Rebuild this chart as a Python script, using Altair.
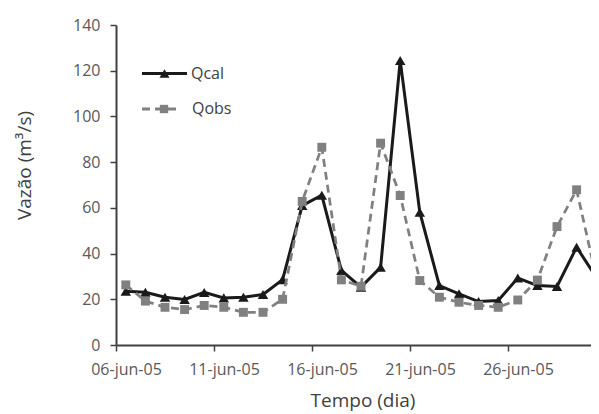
import altair as alt
import pandas as pd

# ---- data ----
datas = [
    "2005-06-06", "2005-06-07", "2005-06-08", "2005-06-09", "2005-06-10",
    "2005-06-11", "2005-06-12", "2005-06-13", "2005-06-14", "2005-06-15",
    "2005-06-16", "2005-06-17", "2005-06-18", "2005-06-19", "2005-06-20",
    "2005-06-21", "2005-06-22", "2005-06-23", "2005-06-24", "2005-06-25",
    "2005-06-26", "2005-06-27", "2005-06-28", "2005-06-29", "2005-06-30",
]
qcal = [23.5, 23.1, 20.9, 19.9, 23.0, 20.6, 20.9, 22.1, 28.6, 61.0,
        65.5, 32.6, 25.3, 34.0, 124.5, 58.1, 26.0, 22.4, 19.0, 19.5,
        29.3, 26.0, 25.6, 42.8, 29.7]
qobs = [26.3, 19.2, 16.5, 15.5, 17.3, 16.5, 14.3, 14.3, 20.0, 62.8,
        86.5, 28.5, 25.7, 88.3, 65.4, 28.2, 20.9, 18.7, 17.3, 16.5,
        19.7, 28.4, 51.8, 67.9, 29.7]
series = ["Qcal", "Qobs"]
tick_dates = ["2005-06-06", "2005-06-11", "2005-06-16", "2005-06-21", "2005-06-26"]
tick_labels = ["06-jun-05", "11-jun-05", "16-jun-05", "21-jun-05", "26-jun-05"]
y_ticks = [0, 20, 40, 60, 80, 100, 120, 140]

df = pd.DataFrame({
    "data": datas * 2,
    "serie": [series[0]] * len(datas) + [series[1]] * len(datas),
    "vazao": qcal + qobs,
})

def ms(s):
    return int(pd.Timestamp(s, tz="UTC").value // 10**6)

PLOT_W = 475
PX_PER_DAY = 19.6
t0 = ms(tick_dates[0])
day = 86400000
t_end = t0 + int(PLOT_W / PX_PER_DAY * day)
tick_ms = [ms(d) for d in tick_dates]
label_arr = "[" + ",".join("'%s'" % l for l in tick_labels) + "]"
label_expr = "%s[round((datum.value - %d) / %d)]" % (label_arr, t0, 5 * day)

FONT = "Open Sans"
AXIS_COLOR = "#404040"
TEXT_COLOR = "#595959"
BLACK = "#1a1a1a"
GRAY = "#808080"

x_enc = alt.X(
    "data:T",
    timeUnit="utcyearmonthdate",
    bandPosition=0.5,
    scale=alt.Scale(type="utc", domain=[t0, t_end], nice=False),
    axis=alt.Axis(
        values=tick_ms,
        labelExpr=label_expr,
        labelOffset=10,
        labelFlush=False,
        labelOverlap=False,
        title="Tempo (dia)",
        titleX=246.5,
        titleY=61,
        titleBaseline="alphabetic",
        titleAlign="center",
    ),
)
y_enc = alt.Y(
    "vazao:Q",
    scale=alt.Scale(domain=[0, 140], nice=False),
    axis=alt.Axis(
        values=y_ticks,
        title="Vazão (m³/s)",
        titleX=-92,
        titleY=140,
        titleAlign="center",
        titleBaseline="middle",
        titleAngle=270,
    ),
)

base = alt.Chart(df)

def line_layer(name, color, width, dash=None):
    kw = dict(color=color, strokeWidth=width, clip=True)
    if dash:
        kw["strokeDash"] = dash
    return base.transform_filter(alt.datum.serie == name).mark_line(**kw).encode(x=x_enc, y=y_enc)

def point_layer(name, shape, color, size):
    return base.transform_filter(alt.datum.serie == name).mark_point(
        shape=shape, filled=True, color=color, size=size, opacity=1
    ).encode(x=x_enc, y=y_enc)

# legend (manual, inside the plot at top-left)
def leg_df(name):
    return pd.DataFrame({"serie": [name]})

leg_cal_line = alt.Chart(leg_df("Qcal")).mark_rule(color=BLACK, strokeWidth=3).encode(
    x=alt.value(26), x2=alt.value(71), y=alt.value(48.5))
leg_cal_pt = alt.Chart(leg_df("Qcal")).mark_point(
    shape="triangle-up", filled=True, color=BLACK, size=100, opacity=1).encode(
    x=alt.value(48.5), y=alt.value(48.5))
leg_cal_txt = alt.Chart(leg_df("Qcal")).mark_text(
    align="left", baseline="middle", font=FONT, fontSize=16, color=AXIS_COLOR).encode(
    x=alt.value(75), y=alt.value(48.5), text="serie:N")
leg_obs_line = alt.Chart(leg_df("Qobs")).mark_rule(color=GRAY, strokeWidth=3, strokeDash=[8, 5]).encode(
    x=alt.value(26), x2=alt.value(62), y=alt.value(84))
leg_obs_pt = alt.Chart(leg_df("Qobs")).mark_point(
    shape="square", filled=True, color=GRAY, size=70, opacity=1).encode(
    x=alt.value(48), y=alt.value(84))
leg_obs_txt = alt.Chart(leg_df("Qobs")).mark_text(
    align="left", baseline="middle", font=FONT, fontSize=16, color=AXIS_COLOR).encode(
    x=alt.value(76), y=alt.value(84), text="serie:N")

chart = alt.layer(
    line_layer("Qcal", BLACK, 3),
    point_layer("Qcal", "triangle-up", BLACK, 110),
    line_layer("Qobs", GRAY, 2.75, [8, 5]),
    point_layer("Qobs", "square", GRAY, 80),
    leg_cal_line, leg_cal_pt, leg_cal_txt,
    leg_obs_line, leg_obs_pt, leg_obs_txt,
).properties(
    width=PLOT_W,
    height=320,
    autosize=alt.AutoSizeParams(type="none"),
    padding={"left": 108, "top": 17, "right": 0, "bottom": 66},
).configure_view(
    stroke=None
).configure_axis(
    grid=False,
    domainColor=AXIS_COLOR,
    domainWidth=2,
    tickColor=AXIS_COLOR,
    tickWidth=1.5,
    tickSize=6,
    labelColor=TEXT_COLOR,
    labelFont=FONT,
    labelFontSize=16,
    labelPadding=10,
    titleColor=AXIS_COLOR,
    titleFont=FONT,
    titleFontSize=19,
    titleFontWeight="normal",
)

chart.save("out.html", embed_options={"renderer": "svg", "actions": False})
